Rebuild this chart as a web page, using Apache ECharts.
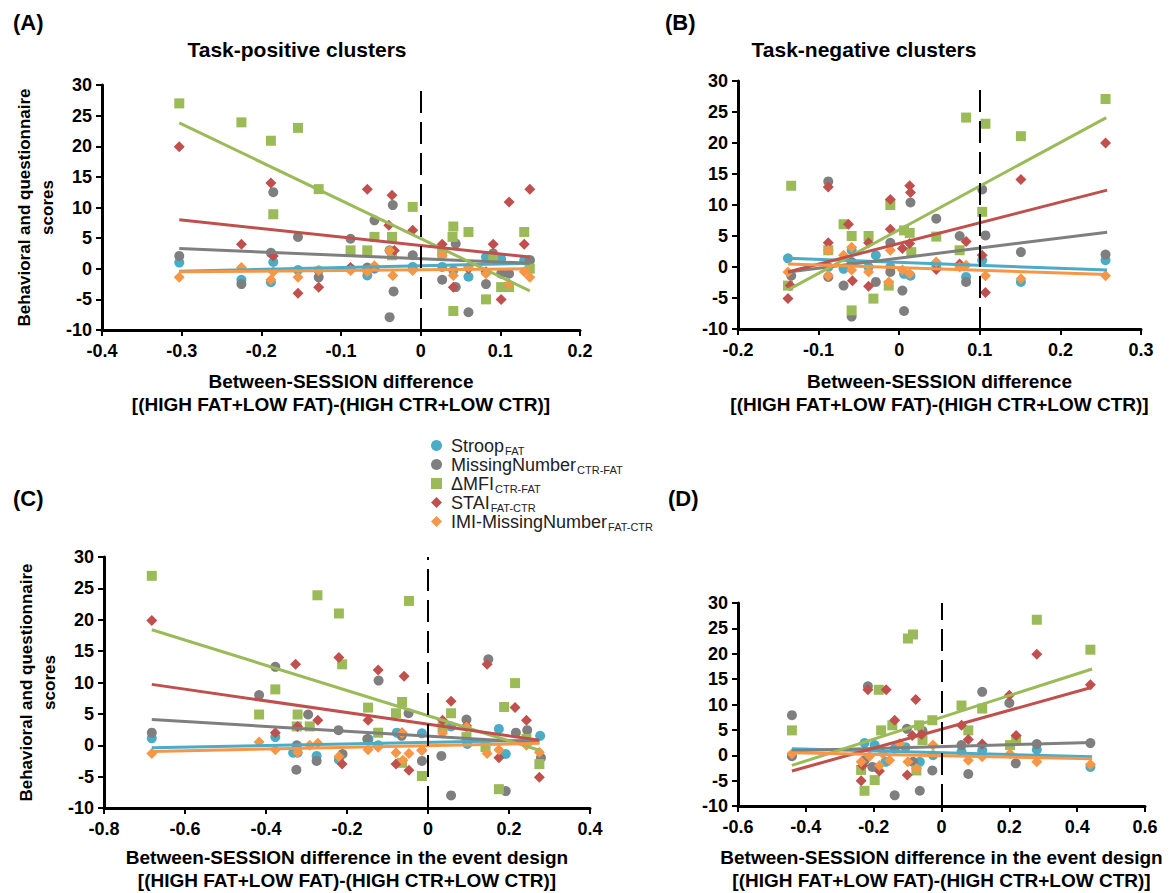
<!DOCTYPE html>
<html><head><meta charset="utf-8">
<script src="https://cdn.jsdelivr.net/npm/echarts@6/dist/echarts.min.js"></script>
<style>html,body{margin:0;padding:0;background:#fff}#c{width:1169px;height:893px}</style>
</head><body><div id="c"></div>
<script>
// ---------- series names / legend ----------
const measureNames = ['Stroop', 'MissingNumber', 'ΔMFI', 'STAI', 'IMI-MissingNumber'];
const measureSubs = ['FAT', 'CTR-FAT', 'CTR-FAT', 'FAT-CTR', 'FAT-CTR'];
const panelLetters = ['(A)', '(B)', '(C)', '(D)'];
const panelTitles = ['Task-positive clusters', 'Task-negative clusters', '', ''];
const xTitlesAB = 'Between-SESSION difference\n[(HIGH FAT+LOW FAT)-(HIGH CTR+LOW CTR)]';
const xTitlesCD = 'Between-SESSION difference in the event design\n[(HIGH FAT+LOW FAT)-(HIGH CTR+LOW CTR)]';
const yTitle = 'Behavioral and questionnaire\nscores';
const refLineX = [0, 0.1, 0, 0];
const xRanges = [[-0.4, 0.2, 0.1], [-0.2, 0.3, 0.1], [-0.8, 0.4, 0.2], [-0.6, 0.6, 0.2]];
const yRange = [-10, 30, 5];

// ---------- Panel A ----------
const A_stroop = [[-0.303,1.0],[-0.225,-1.8],[-0.188,-2.2],[-0.185,1.1],[-0.154,-0.2],[-0.128,-0.3],[-0.088,0],[-0.067,-1.1],[-0.058,0],[-0.039,3.0],[-0.010,0.3],[0.027,0.3],[0.041,-0.3],[0.060,-1.3],[0.082,1.9],[0.091,1.6],[0.101,1.6],[0.130,1.4],[0.137,1.4]];
const A_missing = [[-0.303,2.1],[-0.225,-2.5],[-0.188,2.6],[-0.185,12.5],[-0.154,5.2],[-0.128,-1.4],[-0.088,4.9],[-0.067,0.2],[-0.058,7.9],[-0.039,-7.9],[-0.035,10.4],[-0.034,-3.7],[-0.010,2.2],[0.027,-1.8],[0.044,4.1],[0.044,-3.0],[0.060,-7.1],[0.082,-2.5],[0.091,2.5],[0.101,-0.8],[0.111,-0.8],[0.137,1.4]];
const A_mfi = [[-0.303,27.0],[-0.225,23.9],[-0.188,20.9],[-0.185,8.9],[-0.154,23.0],[-0.128,13.0],[-0.088,3.0],[-0.067,3.0],[-0.058,5.2],[-0.036,5.2],[-0.036,2.2],[-0.010,10.1],[0.027,2.6],[0.041,6.9],[0.040,5.2],[0.041,-6.9],[0.060,6.0],[0.082,-5.0],[0.091,1.9],[0.101,-3.0],[0.111,-3.0],[0.130,6.0],[0.137,0.0]];
const A_stai = [[-0.303,19.9],[-0.225,4.0],[-0.188,14.0],[-0.185,2.1],[-0.154,-4.0],[-0.128,-3.0],[-0.088,0.2],[-0.067,13.0],[-0.058,0.2],[-0.036,12.0],[-0.040,7.1],[-0.033,3.0],[-0.010,6.3],[0.027,4.0],[0.041,-3.0],[0.060,0.0],[0.082,-0.5],[0.091,4.0],[0.101,-5.0],[0.111,10.9],[0.130,4.0],[0.137,13.0]];
const A_imi = [[-0.303,-1.4],[-0.225,0.2],[-0.188,-1.8],[-0.185,-0.5],[-0.154,-1.4],[-0.128,-0.3],[-0.088,-0.3],[-0.067,-0.5],[-0.058,0.5],[-0.039,3.0],[-0.035,-1.1],[-0.010,-0.3],[0.027,2.2],[0.041,-1.1],[0.060,0.3],[0.082,-0.8],[0.111,-2.5],[0.130,-0.5],[0.137,-1.4]];
const A_trend_stroop = [[-0.303,-0.4],[0.137,0.9]];
const A_trend_missing = [[-0.303,3.3],[0.137,0.9]];
const A_trend_mfi = [[-0.303,23.8],[0.137,-3.6]];
const A_trend_stai = [[-0.303,8.0],[0.137,1.9]];
const A_trend_imi = [[-0.303,-0.5],[0.137,0.0]];

// ---------- Panel B ----------
const B_stroop = [[-0.138,1.4],[-0.088,0],[-0.069,-0.3],[-0.059,2.7],[-0.038,0],[-0.029,1.9],[-0.011,0],[0.006,-1.1],[0.014,-1.4],[0.046,0],[0.083,-1.6],[0.103,1.1],[0.151,-2.4],[0.256,1.1]];
const B_missing = [[-0.134,-1.4],[-0.088,13.8],[-0.088,-1.6],[-0.069,-3.0],[-0.059,-8.0],[-0.059,0.8],[-0.029,-2.4],[-0.011,3.9],[-0.011,-0.8],[0.004,-3.8],[0.006,-7.1],[0.014,10.4],[0.046,7.8],[0.075,5.0],[0.083,-2.4],[0.103,12.5],[0.107,5.1],[0.151,2.4],[0.256,2.0]];
const B_mfi = [[-0.138,-3.0],[-0.134,13.1],[-0.088,2.7],[-0.069,6.9],[-0.059,5.0],[-0.059,-7.0],[-0.038,5.0],[-0.032,-5.1],[-0.011,10.0],[-0.013,-3.0],[0.006,5.9],[0.013,5.5],[0.015,2.4],[0.046,4.9],[0.075,2.7],[0.083,24.1],[0.103,8.9],[0.107,23.1],[0.151,21.1],[0.256,27.1]];
const B_stai = [[-0.138,-5.1],[-0.135,-3.0],[-0.088,12.9],[-0.088,3.9],[-0.063,6.9],[-0.058,-2.2],[-0.038,3.9],[-0.038,-3.1],[-0.011,10.9],[-0.011,6.1],[0.013,13.1],[0.014,12.0],[0.004,3.0],[0.013,3.8],[0.046,-0.4],[0.075,0.5],[0.083,4.1],[0.103,1.9],[0.107,-4.1],[0.151,14.1],[0.256,20.0]];
const B_imi = [[-0.138,-0.8],[-0.088,2.7],[-0.088,-1.4],[-0.069,1.9],[-0.059,3.2],[-0.059,-0.5],[-0.038,-0.8],[-0.011,2.7],[-0.013,-2.4],[0.004,-0.5],[0.013,-1.1],[0.046,0.8],[0.075,0],[0.083,0.3],[0.107,-1.4],[0.151,-1.9],[0.256,-1.4]];
const B_trend_stroop = [[-0.138,1.4],[0.258,-0.5]];
const B_trend_missing = [[-0.138,-0.8],[0.258,5.6]];
const B_trend_mfi = [[-0.138,-3.7],[0.257,24.1]];
const B_trend_stai = [[-0.138,-0.8],[0.258,12.4]];
const B_trend_imi = [[-0.138,0.5],[0.258,-1.2]];

// ---------- Panel C ----------
const C_stroop = [[-0.682,1.1],[-0.377,1.3],[-0.333,-1.2],[-0.322,-1.2],[-0.275,-1.7],[-0.220,-2.3],[-0.147,1.0],[-0.123,0],[-0.077,2.0],[-0.015,1.9],[0.057,3.0],[0.097,0.2],[0.175,2.6],[0.192,-1.4],[0.277,1.5]];
const C_missing = [[-0.682,2.0],[-0.417,8.0],[-0.377,12.5],[-0.324,0],[-0.325,-3.9],[-0.296,4.9],[-0.275,-2.5],[-0.221,2.4],[-0.211,-1.4],[-0.150,1.0],[-0.122,10.3],[-0.065,1.5],[-0.048,5.1],[-0.015,-2.5],[0.033,-1.7],[0.057,-8.0],[0.095,4.1],[0.149,13.7],[0.192,-7.3],[0.217,2.0],[0.245,2.4],[0.279,-2.0]];
const C_mfi = [[-0.682,27.0],[-0.417,4.9],[-0.377,8.9],[-0.322,4.9],[-0.324,3.0],[-0.292,3.0],[-0.273,23.9],[-0.220,21.0],[-0.212,12.9],[-0.148,6.0],[-0.123,2.0],[-0.079,5.1],[-0.064,6.9],[-0.064,-2.8],[-0.047,23.0],[-0.015,-4.9],[0.036,2.9],[0.057,5.1],[0.095,1.3],[0.142,-0.3],[0.175,-7.0],[0.188,6.1],[0.215,9.9],[0.243,1.0],[0.275,-3.0]];
const C_stai = [[-0.682,19.9],[-0.377,2.0],[-0.327,12.9],[-0.322,3.0],[-0.272,4.0],[-0.220,14.0],[-0.212,-3.0],[-0.148,4.0],[-0.123,12.0],[-0.079,-3.0],[-0.064,2.0],[-0.059,11.0],[-0.047,-4.0],[-0.015,-0.8],[0.036,4.0],[0.057,7.0],[0.095,3.1],[0.146,12.9],[0.175,-2.0],[0.215,6.0],[0.243,4.0],[0.275,-5.1]];
const C_imi = [[-0.682,-1.3],[-0.417,0.5],[-0.377,-0.7],[-0.322,-1.1],[-0.292,0],[-0.272,0.3],[-0.220,-1.8],[-0.148,-0.7],[-0.123,-0.3],[-0.079,-1.2],[-0.064,1.9],[-0.062,-2.4],[-0.047,-1.3],[-0.015,-0.8],[0.036,1.9],[0.095,2.9],[0.146,-1.3],[0.175,-0.7],[0.243,0],[0.275,-1.1]];
const C_trend_stroop = [[-0.682,-0.4],[0.275,0.8]];
const C_trend_missing = [[-0.682,4.1],[0.275,0.4]];
const C_trend_mfi = [[-0.682,18.4],[0.275,-0.8]];
const C_trend_stai = [[-0.682,9.7],[0.275,0.8]];
const C_trend_imi = [[-0.682,-1.0],[0.275,0.3]];

// ---------- Panel D ----------
const D_stroop = [[-0.441,0],[-0.227,2.4],[-0.197,2.0],[-0.165,-1.3],[-0.138,1.3],[-0.106,1.6],[-0.064,-1.3],[-0.025,0],[0.059,0.7],[0.120,1.0],[0.281,1.1],[0.439,-2.3]];
const D_missing = [[-0.441,7.9],[-0.441,-0.2],[-0.217,13.6],[-0.227,-1.0],[-0.204,-2.3],[-0.138,-7.9],[-0.102,5.2],[-0.084,-1.3],[-0.064,-7.0],[-0.056,4.8],[-0.027,-3.0],[0.059,2.0],[0.079,-3.7],[0.120,12.5],[0.200,10.3],[0.219,-1.6],[0.281,2.2],[0.439,2.4]];
const D_mfi = [[-0.441,4.9],[-0.237,-2.9],[-0.227,-7.0],[-0.197,-4.9],[-0.185,12.9],[-0.178,4.9],[-0.145,5.9],[-0.099,23.0],[-0.084,23.8],[-0.074,-3.0],[-0.066,5.9],[-0.056,3.0],[-0.027,6.9],[0.059,9.8],[0.079,4.9],[0.120,9.2],[0.202,2.0],[0.220,3.0],[0.281,26.7],[0.439,20.8]];
const D_stai = [[-0.237,-5.0],[-0.232,-2.0],[-0.217,12.9],[-0.183,-3.1],[-0.163,12.9],[-0.138,6.9],[-0.101,-3.9],[-0.086,3.9],[-0.076,11.0],[-0.059,4.1],[0.059,5.9],[0.079,3.1],[0.120,2.2],[0.200,11.8],[0.220,3.9],[0.281,19.9],[0.439,13.9]];
const D_imi = [[-0.441,0.3],[-0.237,-1.3],[-0.212,-0.2],[-0.183,-2.0],[-0.173,0.3],[-0.153,-1.0],[-0.123,2.3],[-0.099,-1.3],[-0.074,-2.6],[-0.025,2.0],[0.079,-1.0],[0.120,-0.3],[0.202,0.3],[0.281,-1.3],[0.439,-1.8]];
const D_trend_stroop = [[-0.441,1.3],[0.444,-0.3]];
const D_trend_missing = [[-0.441,0.9],[0.444,2.5]];
const D_trend_mfi = [[-0.441,-2.0],[0.444,17.0]];
const D_trend_stai = [[-0.441,-3.1],[0.444,13.4]];
const D_trend_imi = [[-0.441,0.5],[0.444,-0.7]];

// ---------- styling ----------
const colors = ['#4BACC6', '#7F7F7F', '#9BBB59', '#C0504D', '#F79646'];
const symbols = ['circle', 'circle', 'rect', 'diamond', 'diamond'];
const symbolSizes = [10, 10, 10, 11, 11];
const FONT = '"Liberation Sans", Arial, sans-serif';

const panelPoints = [
  [A_stroop, A_missing, A_mfi, A_stai, A_imi],
  [B_stroop, B_missing, B_mfi, B_stai, B_imi],
  [C_stroop, C_missing, C_mfi, C_stai, C_imi],
  [D_stroop, D_missing, D_mfi, D_stai, D_imi]
];
const panelTrends = [
  [A_trend_stroop, A_trend_missing, A_trend_mfi, A_trend_stai, A_trend_imi],
  [B_trend_stroop, B_trend_missing, B_trend_mfi, B_trend_stai, B_trend_imi],
  [C_trend_stroop, C_trend_missing, C_trend_mfi, C_trend_stai, C_trend_imi],
  [D_trend_stroop, D_trend_missing, D_trend_mfi, D_trend_stai, D_trend_imi]
];

const grids = [
  {left: 102, top: 85, width: 478, height: 245},
  {left: 738, top: 81, width: 403, height: 248},
  {left: 104, top: 557, width: 486, height: 251},
  {left: 738, top: 603, width: 407, height: 203}
];
const xNames = [xTitlesAB, xTitlesAB, xTitlesCD, xTitlesCD];
const xNameGaps = [40, 41, 38, 40];

const axisLine = {show: true, onZero: false, lineStyle: {color: '#000', width: 3}};
const axisTick = {show: true, inside: false, length: 6, lineStyle: {color: '#000', width: 2}};
const boldRich = {b: {color: '#000', fontWeight: 'bold', fontSize: 18, fontFamily: FONT}};

const xAxis = xRanges.map((r, i) => ({
  type: 'value', gridIndex: i, min: r[0], max: r[1], interval: r[2],
  axisLine, axisTick, splitLine: {show: false},
  axisLabel: {margin: 12, color: '#000', fontWeight: 'bold', fontSize: 18, fontFamily: FONT,
    formatter: v => '{b|' + String(+v.toFixed(1)) + '}', rich: boldRich},
  name: xNames[i], nameLocation: 'middle', nameGap: xNameGaps[i],
  nameTextStyle: {color: '#000', fontWeight: 'bold', fontSize: 19, fontFamily: FONT, lineHeight: 23}
}));
const yAxis = grids.map((g, i) => ({
  type: 'value', gridIndex: i, min: yRange[0], max: yRange[1], interval: yRange[2],
  axisLine, axisTick, splitLine: {show: false},
  axisLabel: {margin: 10, color: '#000', fontWeight: 'bold', fontSize: 18, fontFamily: FONT,
    formatter: v => '{b|' + v + '}', rich: boldRich},
  name: (i === 0 || i === 2) ? yTitle : '', nameLocation: 'middle', nameRotate: 90, nameGap: 43,
  nameTextStyle: {color: '#000', fontWeight: 'bold', fontSize: 17, fontFamily: FONT, lineHeight: 23}
}));

const series = [];
panelPoints.forEach((pts, p) => {
  pts.forEach((data, m) => {
    const s = {
      type: 'scatter', name: measureNames[m], xAxisIndex: p, yAxisIndex: p,
      data, symbol: symbols[m], symbolSize: symbolSizes[m],
      itemStyle: {color: colors[m], opacity: 1}, z: 2, silent: true
    };
    if (m === 0) {
      s.markLine = {
        silent: true, symbol: 'none', label: {show: false}, animation: false,
        lineStyle: {color: '#000', type: [22, 9], width: 2},
        data: [{xAxis: refLineX[p]}]
      };
    }
    series.push(s);
  });
  panelTrends[p].forEach((data, m) => {
    series.push({
      type: 'line', name: measureNames[m] + ' trend', xAxisIndex: p, yAxisIndex: p,
      data, symbol: 'none', showSymbol: false, silent: true,
      lineStyle: {color: colors[m], width: 3}, itemStyle: {color: colors[m]}, z: 3
    });
  });
});

const letterPos = [[13, 22], [665, 22], [13, 498], [668, 498]];
const titleCenters = [[297, 49], [864, 49]];
const graphic = [];
panelLetters.forEach((t, i) => graphic.push({
  type: 'text', x: letterPos[i][0], y: letterPos[i][1],
  style: {text: t, fill: '#000', font: 'bold 22px ' + FONT, verticalAlign: 'middle'}
}));
titleCenters.forEach((c, i) => graphic.push({
  type: 'text', x: c[0], y: c[1],
  style: {text: panelTitles[i], fill: '#000', font: 'bold 21px ' + FONT, align: 'center', verticalAlign: 'middle'}
}));

const option = {
  animation: false,
  backgroundColor: '#fff',
  grid: grids,
  xAxis, yAxis, series, graphic,
  legend: {
    orient: 'vertical', left: 426, top: 432, itemWidth: 11, itemHeight: 11, itemGap: 0,
    selectedMode: false,
    data: measureNames.map((n, i) => ({name: n, icon: symbols[i]})),
    formatter: n => '{m|' + n + '}{s|' + measureSubs[measureNames.indexOf(n)] + '}',
    textStyle: {
      fontFamily: FONT, color: '#222',
      rich: {
        m: {fontSize: 18, fontFamily: FONT, color: '#222', lineHeight: 17, verticalAlign: 'top', padding: [0, 0, 0, 4]},
        s: {fontSize: 11, fontFamily: FONT, color: '#222', lineHeight: 11, verticalAlign: 'top', padding: [8, 0, 0, 1]}
      }
    }
  }
};

const chart = echarts.init(document.getElementById('c'), null, {renderer: 'svg'});
chart.setOption(option);
</script></body></html>
